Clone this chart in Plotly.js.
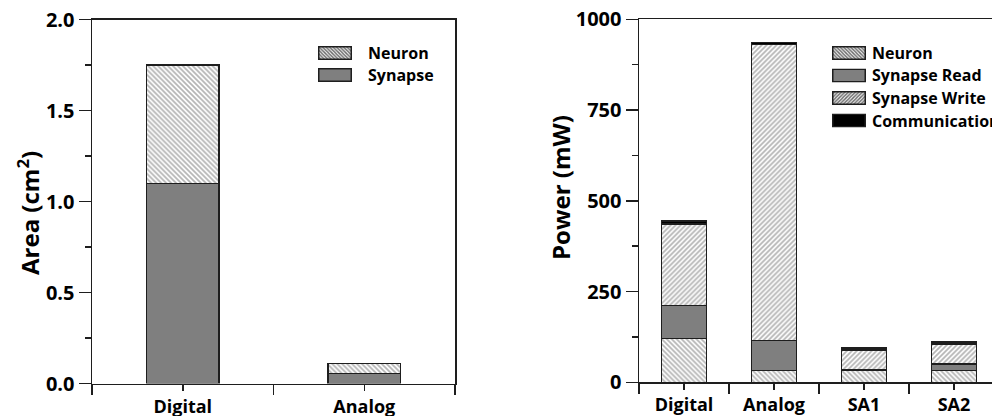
<!DOCTYPE html>
<html>
<head>
<meta charset="utf-8">
<script src="https://cdn.plot.ly/plotly-3.0.1.min.js"></script>
<style>
  html, body { margin: 0; padding: 0; overflow: hidden; background: #fff; }
  #chart { width: 1000px; height: 416px; }
</style>
</head>
<body>
<div id="chart"></div>
<script>
// ---- Area panel data (cm^2) ----
const areaCategories = ['Digital', 'Analog'];
const areaSynapse = [1.10, 0.055];
const areaNeuron = [0.65, 0.055];
const areaTicks = [0, 0.5, 1.0, 1.5, 2.0];

// ---- Power panel data (mW) ----
const powerCategories = ['Digital', 'Analog', 'SA1', 'SA2'];
const powerNeuron = [120, 32, 34, 32];
const powerSynapseRead = [91, 83, 0, 19];
const powerSynapseWrite = [225, 816, 55, 55];
const powerCommunication = [9, 5, 6, 5];
const powerTicks = [0, 250, 500, 750, 1000];

const W = 1000, H = 416;
const FONT = 'Open Sans, DejaVu Sans, sans-serif';
const INK = '#1e1e1e';
const HATCH = '#6a6a6a';
const SOLID = '#7f7f7f';

const idx = arr => arr.map((_, i) => i);
const bounds = arr => [-0.5].concat(arr.map((_, i) => i + 0.5));

function hatch(shape) {
  return { shape: shape, bgcolor: '#ffffff', fgcolor: HATCH, size: 3.5, solidity: 0.5, fillmode: 'overlay' };
}

function barTrace(cats, vals, name, fill, xa, ya, width) {
  const marker = { line: { color: INK, width: 1.5 } };
  if (fill === 'black') marker.color = '#000000';
  else if (fill === 'solid') marker.color = SOLID;
  else { marker.color = '#ffffff'; marker.pattern = hatch(fill); }
  return {
    type: 'bar', x: idx(cats), y: vals, name: name, width: width,
    marker: marker, xaxis: xa, yaxis: ya, showlegend: false, hoverinfo: 'y+name'
  };
}

const traces = [
  barTrace(areaCategories, areaSynapse, 'Synapse', 'solid', 'x', 'y', 0.4),
  barTrace(areaCategories, areaNeuron, 'Neuron', '\\', 'x', 'y', 0.4),
  barTrace(powerCategories, powerNeuron, 'Neuron', '\\', 'x2', 'y2', 0.5),
  barTrace(powerCategories, powerSynapseRead, 'Synapse Read', 'solid', 'x2', 'y2', 0.5),
  barTrace(powerCategories, powerSynapseWrite, 'Synapse Write', '/', 'x2', 'y2', 0.5),
  barTrace(powerCategories, powerCommunication, 'Communication', 'black', 'x2', 'y2', 0.5)
];

const xTickFont = { family: FONT, size: 18, weight: 'bold', color: '#000' };
const yTickFont = { family: FONT, size: 20, weight: 'bold', color: '#000' };
const titleFont = { family: FONT, size: 24, weight: 'bold', color: '#000' };

function xAxis(cats, domain, anchor) {
  return {
    domain: domain, anchor: anchor, range: [-0.5, cats.length - 0.5],
    tickmode: 'array', tickvals: idx(cats), ticktext: cats,
    ticks: 'outside', ticklen: 6, tickwidth: 1.5, tickcolor: INK,
    minor: { tickmode: 'array', tickvals: bounds(cats), ticks: 'outside', ticklen: 10, tickwidth: 1.5, tickcolor: INK, showgrid: false },
    showline: true, linecolor: INK, linewidth: 1.5, mirror: true,
    showgrid: false, zeroline: false, tickfont: xTickFont, fixedrange: true
  };
}

function yAxis(ticks, domain, anchor, fmt) {
  const step = ticks[1] - ticks[0];
  return {
    domain: domain, anchor: anchor, range: [ticks[0], ticks[ticks.length - 1]],
    tickmode: 'array', tickvals: ticks, tickformat: fmt,
    ticks: 'outside', ticklen: 12, tickwidth: 1.5, tickcolor: INK,
    minor: { tickmode: 'linear', tick0: ticks[0] + step / 2, dtick: step, ticks: 'outside', ticklen: 6, tickwidth: 1.5, tickcolor: INK, showgrid: false },
    showline: true, linecolor: INK, linewidth: 1.5, mirror: true,
    showgrid: false, zeroline: false, tickfont: yTickFont, fixedrange: true
  };
}

// Legend swatches as small SVG images, so the hatching matches the bars
function swatch(kind) {
  let fill;
  let defs = '';
  if (kind === 'solid') fill = SOLID;
  else if (kind === 'black') fill = '#000';
  else {
    const d = kind === '\\' ? 'M-1,-1L5,5M3,-1L5,1M-1,3L1,5' : 'M-1,5L5,-1M-1,1L1,-1M3,5L5,3';
    defs = "<defs><pattern id='p' width='3.5' height='3.5' patternUnits='userSpaceOnUse'>" +
      "<rect width='4' height='4' fill='#fff'/><path d='" + d + "' transform='scale(0.875)' stroke='" + HATCH + "' stroke-width='1.6'/></pattern></defs>";
    fill = 'url(#p)';
  }
  const svg = "<svg xmlns='http://www.w3.org/2000/svg' width='68' height='28' viewBox='0 0 34 14'>" + defs +
    "<rect x='0.75' y='0.75' width='32.5' height='12.5' fill='" + fill + "' stroke='" + INK + "' stroke-width='1.5'/></svg>";
  return 'data:image/svg+xml;charset=utf-8,' + encodeURIComponent(svg);
}

const legendAreaItems = [['Neuron', '\\'], ['Synapse', 'solid']];
const legendPowerItems = [['Neuron', '\\'], ['Synapse Read', 'solid'], ['Synapse Write', '/'], ['Communication', 'black']];

const images = [];
const annotations = [];
function addLegend(items, boxX, textX, topY, rowStep) {
  items.forEach((it, i) => {
    const y0 = topY + i * rowStep;
    images.push({
      source: swatch(it[1]), xref: 'paper', yref: 'paper',
      x: boxX / W, y: 1 - y0 / H, sizex: 34 / W, sizey: 14 / H,
      sizing: 'stretch', xanchor: 'left', yanchor: 'top', layer: 'above'
    });
    annotations.push({
      text: it[0], xref: 'paper', yref: 'paper', x: textX / W, y: 1 - (y0 + 7) / H,
      xanchor: 'left', yanchor: 'middle', showarrow: false,
      font: { family: FONT, size: 16, weight: 'bold', color: '#000' }
    });
  });
}
addLegend(legendAreaItems, 318, 366, 46, 22);
addLegend(legendPowerItems, 832, 870, 46, 22.5);

// Rotated axis titles
function yTitle(text, cx, cy) {
  annotations.push({
    text: text, xref: 'paper', yref: 'paper', x: cx / W, y: 1 - cy / H,
    xanchor: 'center', yanchor: 'middle', textangle: -90, showarrow: false, font: titleFont
  });
}
yTitle('Area (cm<sup>2</sup>)', 29, 213);
yTitle('Power (mW)', 561, 188);

const layout = {
  width: W, height: H,
  margin: { l: 0, r: 0, t: 0, b: 0 },
  paper_bgcolor: '#fff', plot_bgcolor: '#fff',
  barmode: 'stack',
  xaxis: xAxis(areaCategories, [0.092, 0.455], 'y'),
  yaxis: yAxis(areaTicks, [1 - 383.5 / H, 1 - 19.7 / H], 'x', '.1f'),
  xaxis2: xAxis(powerCategories, [0.639, 0.999], 'y2'),
  yaxis2: yAxis(powerTicks, [1 - 382.3 / H, 1 - 19.3 / H], 'x2', 'd'),
  images: images,
  annotations: annotations,
  showlegend: false
};

Plotly.newPlot('chart', traces, layout, { displayModeBar: false, staticPlot: true });
</script>
</body>
</html>
